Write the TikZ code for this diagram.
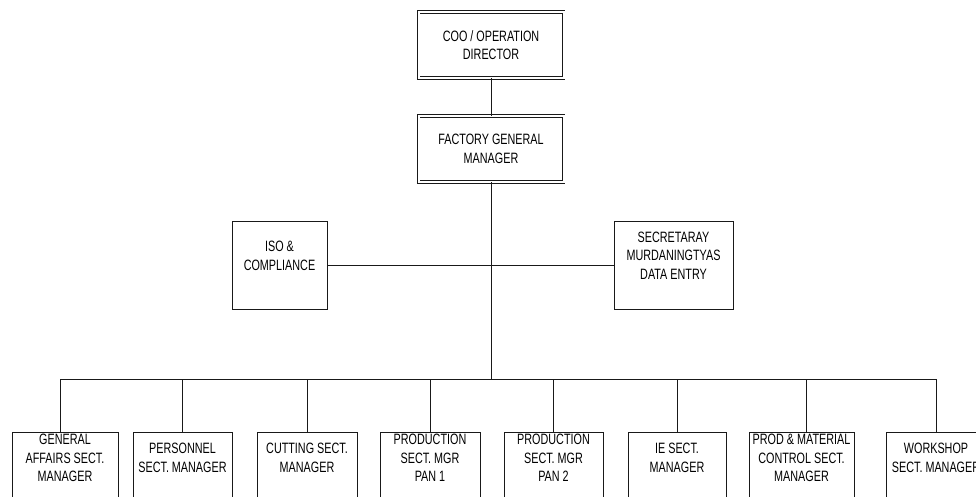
\documentclass[tikz,border=0pt]{standalone}
\usepackage{fontspec}
\newfontfamily\orgfont[FakeStretch=0.72]{Liberation Sans}
\begin{document}
\begin{tikzpicture}[x=1pt,y=-1pt,
  box/.style={draw=black!90, line width=0.8pt, rectangle, inner sep=0pt},
  head/.style={box, double, double distance=2pt, minimum width=145pt, minimum height=66pt},
  staff/.style={box, minimum height=88pt},
  leaf/.style={box, anchor=north, minimum height=90pt},
  txt/.style={font=\orgfont\fontsize{15}{18.5}\selectfont, align=center, text=black, inner sep=0pt},
  lbl/.style={txt, anchor=center},
  link/.style={draw=black!90, line width=0.8pt}]
\useasboundingbox (0,0) rectangle (976,497);
\clip (0,0) rectangle (976,497);

% top of the chart
\node[head, txt] (coo) at (491,45) {COO / OPERATION\\DIRECTOR};
\node[head, txt] (fgm) at (491,149) {FACTORY GENERAL\\MANAGER};

% staff functions
\node[staff, minimum width=95pt, label={[lbl, yshift=9pt]center:{ISO \&\\COMPLIANCE}}] (iso) at (279.5,265) {};
\node[staff, minimum width=119pt, label={[lbl, yshift=9.5pt]center:{SECRETARAY\\MURDANINGTYAS\\DATA ENTRY}}] (sec) at (673.5,265) {};

% section managers
\node[leaf, minimum width=106pt, label={[lbl, yshift=-26pt]north:{GENERAL\\AFFAIRS SECT.\\MANAGER}}] (ga) at (65,432) {};
\node[leaf, minimum width=99pt, label={[lbl, yshift=-26pt]north:{PERSONNEL\\SECT. MANAGER}}] (pe) at (182.5,432) {};
\node[leaf, minimum width=100pt, label={[lbl, yshift=-26pt]north:{CUTTING SECT.\\MANAGER}}] (cu) at (307,432) {};
\node[leaf, minimum width=100pt, label={[lbl, yshift=-26pt]north:{PRODUCTION\\SECT. MGR\\PAN 1}}] (p1) at (430,432) {};
\node[leaf, minimum width=99pt, label={[lbl, yshift=-26pt]north:{PRODUCTION\\SECT. MGR\\PAN 2}}] (p2) at (553.5,432) {};
\node[leaf, minimum width=98pt, label={[lbl, yshift=-26pt]north:{IE SECT.\\MANAGER}}] (ie) at (677,432) {};
\node[leaf, minimum width=105pt, label={[lbl, yshift=-26pt]north:{PROD \& MATERIAL\\CONTROL SECT.\\MANAGER}}] (pm) at (801.5,432) {};
\node[leaf, minimum width=100pt, label={[lbl, yshift=-26pt]north:{WORKSHOP\\SECT. MANAGER}}] (wk) at (936,432) {};

% connectors
\coordinate (bus) at (491,379);
\draw[link] (coo) -- (fgm);
\draw[link] (fgm) -- (bus);
\draw[link] (iso) -- (sec);
\draw[link] ([xshift=-5pt]ga.north) |- (wk.north |- bus) -- (wk.north);
\foreach \n in {pe,cu,p1,p2,ie}
  \draw[link] (\n.north) -- (\n.north |- bus);
\draw[link] ([xshift=4.5pt]pm.north) -- ([xshift=4.5pt]pm.north |- bus);
\end{tikzpicture}
\end{document}
